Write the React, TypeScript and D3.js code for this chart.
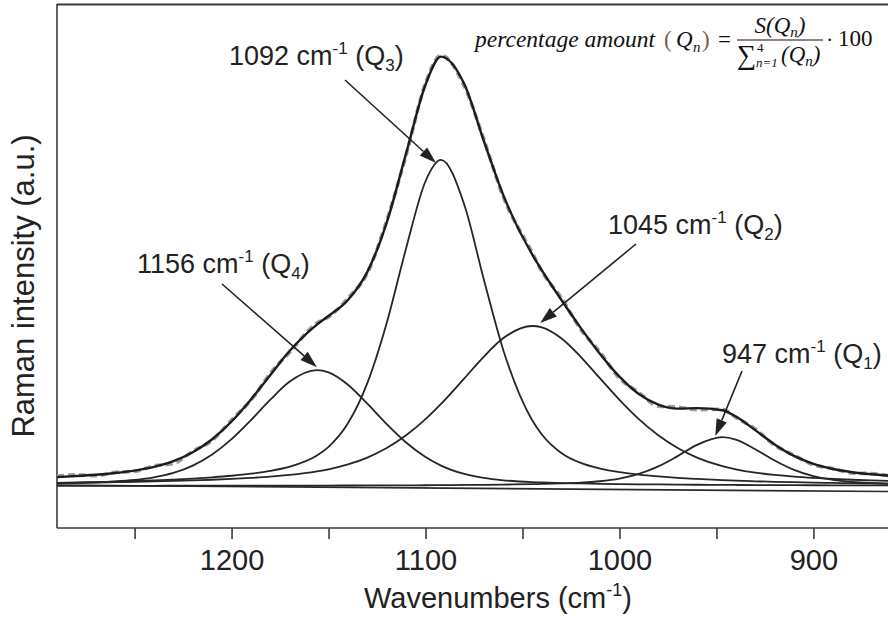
import React, { useEffect, useRef } from "react";
import * as d3 from "d3";

// Common wavenumber grid (cm-1) on which every curve is sampled
const WAVENUMBERS = [
  1290, 1280, 1270, 1260, 1250, 1240, 1230, 1220, 1210, 1200, 1190, 1180, 1170,
  1156, 1150, 1140, 1130, 1120, 1110, 1100, 1092, 1080, 1070, 1060, 1045, 1040,
  1030, 1020, 1010, 1000, 990, 980, 970, 960, 947, 940, 930, 920, 910, 900, 890,
  880, 870, 860,
];

// Fitted component bands (a.u.)
const Q4_BAND = [
  0.6, 0.71, 0.85, 1.06, 1.41, 2.02, 3.05, 4.76, 7.35, 10.92, 15.35, 20.12, 24.34,
  27.0, 26.48, 23.6, 19.18, 14.42, 10.13, 6.75, 4.76, 2.8, 1.87, 1.32, 0.9, 0.82,
  0.68, 0.59, 0.51, 0.45, 0.4, 0.36, 0.32, 0.29, 0.26, 0.24, 0.22, 0.2, 0.19, 0.17,
  0.16, 0.15, 0.14, 0.13,
];
const Q3_BAND = [
  0.75, 0.82, 0.92, 1.03, 1.16, 1.31, 1.5, 1.74, 2.03, 2.39, 2.87, 3.53, 4.51,
  7.12, 9.13, 14.61, 23.98, 38.0, 55.42, 71.04, 76.0, 65.56, 48.27, 31.84, 15.34,
  12.02, 7.71, 5.38, 4.07, 3.24, 2.66, 2.24, 1.9, 1.64, 1.37, 1.25, 1.1, 0.98, 0.88,
  0.79, 0.72, 0.65, 0.59, 0.55,
];
const Q2_BAND = [
  0.69, 0.75, 0.81, 0.89, 0.97, 1.07, 1.18, 1.31, 1.46, 1.65, 1.88, 2.17, 2.57,
  3.4, 3.9, 5.03, 6.63, 8.85, 11.81, 15.57, 19.12, 25.08, 30.12, 34.42, 37.3, 36.96,
  34.42, 30.12, 25.08, 20.07, 15.57, 11.81, 8.85, 6.63, 4.64, 3.9, 3.12, 2.57, 2.17,
  1.88, 1.65, 1.46, 1.31, 1.18,
];
const Q1_BAND = [
  0.04, 0.04, 0.04, 0.05, 0.05, 0.05, 0.06, 0.06, 0.06, 0.07, 0.08, 0.08, 0.09,
  0.1, 0.11, 0.12, 0.13, 0.15, 0.16, 0.18, 0.21, 0.24, 0.28, 0.33, 0.43, 0.48, 0.6,
  0.78, 1.11, 1.72, 2.81, 4.56, 6.97, 9.6, 11.4, 10.82, 8.58, 5.95, 3.77, 2.3, 1.43,
  0.96, 0.7, 0.54,
];

// Fitted envelope (sum of the four bands)
const ENVELOPE = [
  2.08, 2.32, 2.62, 3.03, 3.59, 4.45, 5.79, 7.87, 10.9, 15.03, 20.18, 25.9, 31.51,
  37.62, 39.62, 43.36, 49.92, 61.42, 77.52, 93.54, 100.09, 93.68, 80.54, 67.91,
  53.97, 50.28, 43.41, 36.87, 30.77, 25.48, 21.44, 18.97, 18.04, 18.16, 17.67,
  16.21, 13.02, 9.7, 7.01, 5.14, 3.96, 3.22, 2.74, 2.4,
];

// Measured spectrum
const MEASURED = [
  2.3, 2.6, 2.4, 3.2, 3.4, 4.7, 5.2, 8.1, 10.6, 15.4, 20.0, 26.3, 31.2, 38.0, 39.4,
  43.8, 49.6, 61.9, 77.1, 93.9, 100.4, 93.2, 80.9, 67.5, 54.4, 50.0, 43.9, 36.5,
  31.2, 25.1, 21.8, 18.6, 18.4, 17.8, 17.9, 16.0, 13.3, 9.5, 7.2, 4.9, 4.1, 3.0,
  2.9, 2.3,
];

// Linear background
const BASELINE_WN = [1290, 860];
const BASELINE = [0.2, -1.3];

const X_TICKS = [1250, 1200, 1150, 1100, 1050, 1000, 950, 900];
const X_TICK_LABELS = [1200, 1100, 1000, 900];

const PEAK_CENTERS = [947, 1045, 1092, 1156];
const PEAK_NAMES = ["1", "2", "3", "4"];

const SANS = "'Liberation Sans', Arial, Helvetica, sans-serif";
const SERIF = "'Liberation Serif', 'Times New Roman', serif";
const INK = "#222";

// Label anchors and arrow tails (px); dx/dy shift the arrow tip from the band maximum
const LABEL_LAYOUT = [
  { tx: 722, ty: 363, ax: 742, ay: 371, dx: -7, dy: -1 },
  { tx: 608, ty: 234, ax: 636, ay: 244, dx: 8, dy: -3 },
  { tx: 229, ty: 65, ax: 345, ay: 80, dx: -5, dy: 3 },
  { tx: 137, ty: 273, ax: 222, ay: 284, dx: 0, dy: -3 },
];

export default function App() {
  const axisRef = useRef<SVGGElement>(null);

  const x = d3.scaleLinear().domain([1290, 860]).range([57, 891]);
  const y = d3.scaleLinear().domain([0, 100]).range([486, 57]);

  const line = d3
    .line<number>()
    .x((_, i) => x(WAVENUMBERS[i]))
    .y((v) => y(v))
    .curve(d3.curveMonotoneX);

  const baseLine = d3
    .line<number>()
    .x((_, i) => x(BASELINE_WN[i]))
    .y((v) => y(v));

  useEffect(() => {
    if (!axisRef.current) return;
    const g = d3.select(axisRef.current);
    g.selectAll("*").remove();
    const axis = d3
      .axisBottom(x)
      .tickValues(X_TICKS)
      .tickSize(11)
      .tickPadding(10)
      .tickFormat((d) => (X_TICK_LABELS.includes(+d) ? String(d) : ""));
    g.call(axis as any);
    g.select(".domain").remove();
    g.selectAll(".tick line").attr("stroke", "#3a3a3a").attr("stroke-width", 1.6);
    g.selectAll(".tick text")
      .attr("fill", INK)
      .attr("font-size", 29)
      .attr("font-family", SANS);
  }, []);

  const bands = [Q1_BAND, Q2_BAND, Q3_BAND, Q4_BAND];

  return (
    <svg
      width={888}
      height={618}
      style={{ position: "absolute", left: 0, top: 0, background: "#fff" }}
    >
      <rect x={0} y={0} width={888} height={618} fill="#fff" />

      {/* plot frame */}
      <line x1={57} y1={4.5} x2={888} y2={4.5} stroke="#3a3a3a" strokeWidth={1.8} />
      <line x1={57} y1={4} x2={57} y2={528} stroke="#3a3a3a" strokeWidth={1.6} />
      <line x1={57} y1={528} x2={888} y2={528} stroke="#3a3a3a" strokeWidth={1.6} />
      <g ref={axisRef} transform="translate(0,528)" />

      {/* background */}
      <path d={baseLine(BASELINE) || ""} fill="none" stroke="#2a2a2a" strokeWidth={1.6} />

      {/* component bands */}
      {bands.map((b, i) => (
        <path key={i} d={line(b) || ""} fill="none" stroke="#262626" strokeWidth={1.8} />
      ))}

      {/* measured spectrum and fitted envelope */}
      <path
        d={line(MEASURED) || ""}
        fill="none"
        stroke="#9c9c9c"
        strokeWidth={3.6}
        strokeDasharray="7 4"
      />
      <path d={line(ENVELOPE) || ""} fill="none" stroke="#1c1c1c" strokeWidth={2.4} />

      {/* band annotations */}
      {PEAK_CENTERS.map((c, i) => {
        const idx = WAVENUMBERS.indexOf(c);
        const L = LABEL_LAYOUT[i];
        const tipX = x(c) + L.dx;
        const tipY = y(bands[i][idx]) + L.dy;
        const vx = tipX - L.ax;
        const vy = tipY - L.ay;
        const len = Math.hypot(vx, vy);
        const ux = vx / len;
        const uy = vy / len;
        const bx = tipX - ux * 17;
        const by = tipY - uy * 17;
        const nx = -uy;
        const ny = ux;
        return (
          <g key={c}>
            <line x1={L.ax} y1={L.ay} x2={bx} y2={by} stroke={INK} strokeWidth={1.6} />
            <polygon
              points={`${tipX},${tipY} ${bx + nx * 5.5},${by + ny * 5.5} ${bx - nx * 5.5},${by - ny * 5.5}`}
              fill={INK}
            />
            <text x={L.tx} y={L.ty} fontFamily={SANS} fontSize={27} fill={INK}>
              {`${c} cm`}
              <tspan fontSize={17} dy={-11}>-1</tspan>
              <tspan dy={11}>{" (Q"}</tspan>
              <tspan fontSize={17} dy={6}>{PEAK_NAMES[i]}</tspan>
              <tspan dy={-6}>)</tspan>
            </text>
          </g>
        );
      })}

      {/* axis titles */}
      <text x={498} y={608} textAnchor="middle" fontFamily={SANS} fontSize={29} fill={INK}>
        Wavenumbers (cm
        <tspan fontSize={18} dy={-12}>-1</tspan>
        <tspan dy={12}>)</tspan>
      </text>
      <text
        transform="translate(34,286) rotate(-90)"
        textAnchor="middle"
        fontFamily={SANS}
        fontSize={31}
        fill={INK}
      >
        Raman intensity (a.u.)
      </text>

      {/* percentage formula */}
      <g fontFamily={SERIF} fill="#111">
        <text x={475} y={47} fontSize={23} fontStyle="italic" textLength={180} lengthAdjust="spacingAndGlyphs">
          percentage amount
        </text>
        <text x={664} y={47} fontSize={23} fill="#7a5a52">(</text>
        <text x={676} y={47} fontSize={23} fontStyle="italic">Q</text>
        <text x={693} y={52} fontSize={15} fontStyle="italic">n</text>
        <text x={702} y={47} fontSize={23} fill="#7a5a52">)</text>
        <text x={718} y={47} fontSize={23}>=</text>
        <line x1={737} y1={40} x2={823} y2={40} stroke="#6b5a55" strokeWidth={1.5} />
        <text x={780} y={33} fontSize={23} textAnchor="middle" fontStyle="italic">
          S(Q<tspan fontSize={15} dy={4}>n</tspan><tspan dy={-4}>)</tspan>
        </text>
        <text x={737} y={64} fontSize={27}>∑</text>
        <text x={757} y={52} fontSize={13}>4</text>
        <text x={756} y={67} fontSize={13} fontStyle="italic">n=1</text>
        <text x={781} y={62} fontSize={23} fontStyle="italic">
          (Q<tspan fontSize={15} dy={4}>n</tspan><tspan dy={-4}>)</tspan>
        </text>
        <text x={826} y={47} fontSize={22}>·</text>
        <text x={838} y={46} fontSize={23}>100</text>
      </g>
    </svg>
  );
}
